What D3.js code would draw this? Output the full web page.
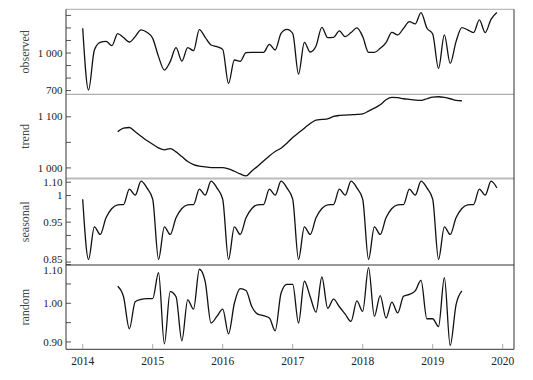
<!DOCTYPE html>
<html><head><meta charset="utf-8">
<script src="https://cdn.jsdelivr.net/npm/d3@7"></script>
<style>html,body{margin:0;padding:0;background:#fff;}svg{display:block;}</style>
</head><body><div id="chart"></div>
<script>
// ---- data (monthly, Jan 2014 .. Dec 2019) ----
const startYear = 2014;
const observed = [1197,704,1024,1085,1093,1059,1155,1123,1088,1131,1184,1165,
  1117,971,864,931,1043,936,1043,1019,1187,1125,1064,1051,
  1029,757,944,933,1003,1005,1005,1005,1069,1024,1157,1189,
  1157,832,1085,1008,1056,1205,1123,1125,1176,1131,1163,1200,
  1131,1005,1005,1037,1083,1165,1144,1197,1251,1232,1323,1200,
  1152,877,1144,917,1091,1203,1184,1163,1264,1163,1269,1323];
const trend = [null,null,null,null,null,null,1070.6,1077.8,1079.1,1070.6,1062.1,1053.6,
  1046.4,1039.2,1035.3,1037.9,1031.4,1022.2,1012.4,1006.5,1003.3,1002.0,1000.7,1000.7,
  1000.7,998.0,993.5,988.2,984.3,994.1,1003.3,1013.7,1023.5,1032.0,1038.6,1048.4,
  1059.5,1068.6,1077.8,1086.9,1093.5,1094.8,1096.1,1100.7,1102.6,1103.3,1103.9,1104.6,
  1105.9,1111.1,1117.0,1123.5,1133.3,1137.9,1137.3,1135.3,1134.0,1132.7,1132.0,1135.3,
  1138.6,1139.2,1137.9,1135.3,1132.0,1131.4,null,null,null,null,null,null];
const seasonal = [0.9931,0.8800,0.9413,0.9269,0.9581,0.9756,0.9825,0.9831,1.0119,1.0006,1.0269,1.0144,
  0.9931,0.8800,0.9413,0.9269,0.9581,0.9756,0.9825,0.9831,1.0119,1.0006,1.0269,1.0144,
  0.9931,0.8800,0.9413,0.9269,0.9581,0.9756,0.9825,0.9831,1.0119,1.0006,1.0269,1.0144,
  0.9931,0.8800,0.9413,0.9269,0.9581,0.9756,0.9825,0.9831,1.0119,1.0006,1.0269,1.0144,
  0.9931,0.8800,0.9413,0.9269,0.9581,0.9756,0.9825,0.9831,1.0119,1.0006,1.0269,1.0144,
  0.9931,0.8800,0.9413,0.9269,0.9581,0.9756,0.9825,0.9831,1.0119,1.0006,1.0269,1.0144];
const random = [null,null,null,null,null,null,1.044,1.017,0.934,1.004,1.010,1.012,
  1.012,1.079,0.895,1.030,1.017,0.903,1.009,0.985,1.088,1.056,0.949,0.966,
  0.985,0.921,1.000,1.038,1.033,0.991,0.972,0.968,0.962,0.929,1.026,1.049,
  1.049,0.949,1.057,1.017,0.977,1.068,0.987,1.011,0.991,0.972,0.953,1.006,
  0.979,1.092,0.966,1.020,0.962,1.003,0.975,1.018,1.023,1.032,1.059,0.960,
  0.960,0.940,1.066,0.891,0.996,1.032,null,null,null,null,null,null];

const xTickYears = [2014,2015,2016,2017,2018,2019,2020];
const obsTicks = [1300,1200,1100,1000,900,800,700];
const obsTickLabels = ["","","","1 000","","","700"];
const trendTicks = [1100,1050,1000];
const trendTickLabels = ["1 100","","1 000"];
const seasTicks = [1.025,1.0,0.975,0.95,0.925,0.9,0.875];
const seasTickLabels = ["1.10","1","","0.95","","","0.85"];
const randTicks = [1.10,1.05,1.00,0.95,0.90];
const randTickLabels = ["1.10","","1.00","","0.90"];

// ---- layout ----
const W = 533, H = 380;
const left = 66, right = 514;
const svg = d3.select("#chart").append("svg").attr("width", W).attr("height", H);
const font = "'Liberation Serif','Times New Roman',serif";

const x = d3.scaleLinear().domain([2014, 2020]).range([82.7, 502.7]);

const panels = [
  {name:"observed", data:observed, top:9.3, bottom:94.3, domain:[670.4,1348.8], ticks:obsTicks, labels:obsTickLabels, labelDy:{}},
  {name:"trend", data:trend, top:94.2, bottom:178.6, domain:[979.1,1144.2], ticks:trendTicks, labels:trendTickLabels, labelDy:{}},
  {name:"seasonal", data:seasonal, top:178.6, bottom:265, domain:[0.8695,1.0318], ticks:seasTicks, labels:seasTickLabels, labelDy:{6:-3}},
  {name:"random", data:random, top:265, bottom:349.3, domain:[0.881,1.099], ticks:randTicks, labels:randTickLabels, labelDy:{0:6}}
];

panels.forEach(p => {
  const y = d3.scaleLinear().domain(p.domain).range([p.bottom, p.top]);
  const g = svg.append("g");
  // ticks
  p.ticks.forEach((t, i) => {
    const yy = y(t);
    g.append("line").attr("x1", left).attr("x2", left + 5).attr("y1", yy).attr("y2", yy)
      .attr("stroke", "#555").attr("stroke-width", 1);
    if (p.labels[i]) {
      g.append("text").attr("x", left - 3.5).attr("y", yy + (p.labelDy[i] || 0))
        .attr("dy", "0.33em").attr("text-anchor", "end")
        .attr("font-family", font).attr("font-size", 11).attr("fill", "#222")
        .text(p.labels[i]);
    }
  });
  // axis title
  g.append("text").attr("transform", `translate(29,${(p.top + p.bottom) / 2}) rotate(-90)`)
    .attr("text-anchor", "middle").attr("font-family", font).attr("font-size", 12)
    .attr("fill", "#444").text(p.name);
  // line
  const line = d3.line()
    .defined(d => d.v != null)
    .x(d => x(d.t)).y(d => y(d.v))
    .curve(d3.curveMonotoneX);
  const pts = p.data.map((v, i) => ({t: startYear + i / 12, v: v}));
  g.append("path").datum(pts).attr("d", line).attr("fill", "none")
    .attr("stroke", "#111").attr("stroke-width", 1.3).attr("stroke-linejoin", "round");
});

// borders
const hline = (yy, color, w) => svg.append("line").attr("x1", left).attr("x2", right)
  .attr("y1", yy).attr("y2", yy).attr("stroke", color).attr("stroke-width", w);
hline(9.3, "#aaa", 1);
hline(94.3, "#999", 1);
hline(178.6, "#bbb", 2);
hline(265, "#333", 1);
hline(349.3, "#333", 1);
svg.append("line").attr("x1", left).attr("x2", left).attr("y1", 9.3).attr("y2", 349.3)
  .attr("stroke", "#333").attr("stroke-width", 1);
svg.append("line").attr("x1", right).attr("x2", right).attr("y1", 9.3).attr("y2", 349.3)
  .attr("stroke", "#333").attr("stroke-width", 1);

// x axis
xTickYears.forEach(yr => {
  svg.append("line").attr("x1", x(yr)).attr("x2", x(yr)).attr("y1", 349.3).attr("y2", 344)
    .attr("stroke", "#aaa").attr("stroke-width", 1);
  svg.append("text").attr("x", x(yr)).attr("y", 361).attr("dy", "0.35em")
    .attr("text-anchor", "middle").attr("font-family", font).attr("font-size", 11.5)
    .attr("fill", "#222").text(yr);
});
</script></body></html>
